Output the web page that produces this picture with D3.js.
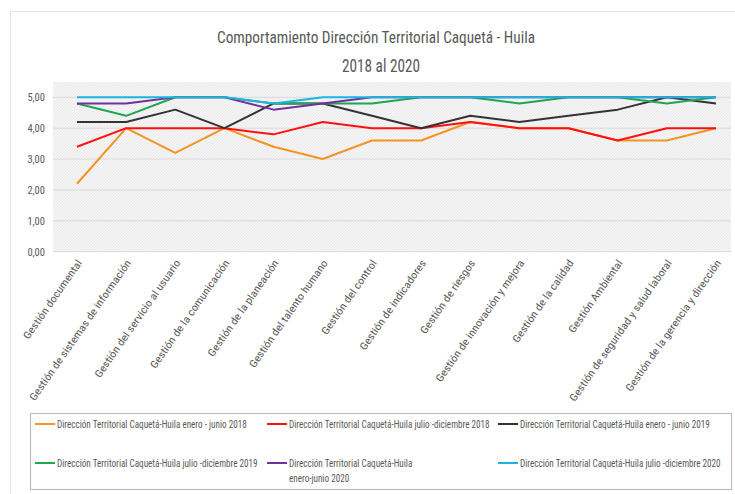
<!DOCTYPE html>
<html><head><meta charset="utf-8">
<script src="https://cdn.jsdelivr.net/npm/d3@7"></script>
<style>
body{margin:0;background:#fff;}
text{font-family:'Liberation Sans Narrow','Arial Narrow','Roboto Condensed','Liberation Sans',sans-serif;}
</style></head>
<body><svg id="c" width="735" height="494"></svg>
<script>
const categories = ["Gestión documental","Gestión de sistemas de información","Gestión del servicio al usuario","Gestión de la comunicación","Gestión de la planeación","Gestión del talento humano","Gestión del control","Gestión de indicadores","Gestión de riesgos","Gestión de innovación y mejora","Gestión de la calidad","Gestión Ambiental","Gestión de seguridad y salud laboral","Gestión de la gerencia y dirección"];
const s2018a = [2.2,4.0,3.2,4.0,3.4,3.0,3.6,3.6,4.2,4.0,4.0,3.6,3.6,4.0];
const s2018b = [3.4,4.0,4.0,4.0,3.8,4.2,4.0,4.0,4.2,4.0,4.0,3.6,4.0,4.0];
const s2019a = [4.2,4.2,4.6,4.0,4.8,4.8,4.4,4.0,4.4,4.2,4.4,4.6,5.0,4.8];
const s2019b = [4.8,4.4,5.0,5.0,4.8,4.8,4.8,5.0,5.0,4.8,5.0,5.0,4.8,5.0];
const s2020a = [4.8,4.8,5.0,5.0,4.6,4.8,5.0,5.0,5.0,5.0,5.0,5.0,5.0,5.0];
const s2020b = [5.0,5.0,5.0,5.0,4.8,5.0,5.0,5.0,5.0,5.0,5.0,5.0,5.0,5.0];
const seriesNames = ["Dirección Territorial Caquetá-Huila enero - junio 2018","Dirección Territorial Caquetá-Huila julio -diciembre 2018","Dirección Territorial Caquetá-Huila enero - junio 2019","Dirección Territorial Caquetá-Huila julio -diciembre 2019","Dirección Territorial Caquetá-Huila\nenero-junio 2020","Dirección Territorial Caquetá-Huila julio -diciembre 2020"];
const seriesValues = [s2018a,s2018b,s2019a,s2019b,s2020a,s2020b];
const colors = ["#F39425","#FF1010","#333333","#1FA650","#7030A0","#1CB4E0"];
const yTicks = [0,1,2,3,4,5];
const titleLines = ["Comportamiento Dirección Territorial Caquetá - Huila","2018 al 2020"];

function fit(sel, target){
  const n0 = sel.node(); const L0 = n0.getComputedTextLength();
  const f = target / L0;
  sel.each(function(){
    const L = this.getComputedTextLength();
    if (L>0) d3.select(this).attr("textLength", L*f).attr("lengthAdjust","spacingAndGlyphs");
  });
}

const svg = d3.select("#c");
svg.append("path").attr("d","M735,11.5 H10.5 V494").attr("fill","none").attr("stroke","#e4e4e4");

const defs = svg.append("defs");
const pat = defs.append("pattern").attr("id","hatch").attr("patternUnits","userSpaceOnUse").attr("width",3).attr("height",3);
pat.append("rect").attr("width",3).attr("height",3).attr("fill","#f5f5f5");
pat.append("path").attr("d","M-1,1 l2,-2 M0,3 l3,-3 M2,4 l2,-2").attr("stroke","#e2e2e2").attr("stroke-width",0.7);

const plotL = 53, plotR = 731, plotT = 82, plotB = 252;
svg.append("rect").attr("x",plotL).attr("y",plotT).attr("width",plotR-plotL).attr("height",plotB-plotT).attr("fill","url(#hatch)");

const x = d3.scalePoint().domain(categories).range([77,716]);
const y = d3.scaleLinear().domain([0,5]).range([251.7,97.3]);

svg.append("g").selectAll("line").data(yTicks).join("line")
  .attr("x1",plotL).attr("x2",plotR).attr("y1",d=>y(d)).attr("y2",d=>y(d))
  .attr("stroke","#d9d9d9").attr("stroke-width",1);

const yAxis = svg.append("g").attr("transform",`translate(${plotL},0)`)
  .call(d3.axisLeft(y).tickValues(yTicks).tickSize(0).tickPadding(8).tickFormat(d=>d.toFixed(2).replace(".",",")));
yAxis.select(".domain").remove();
yAxis.selectAll("text").attr("fill","#595959").style("font-size","10.5px");

const xAxis = svg.append("g").attr("transform",`translate(0,${plotB})`)
  .call(d3.axisBottom(x).tickSize(0).tickPadding(0));
xAxis.select(".domain").remove();
const xl = xAxis.selectAll("text").attr("fill","#595959").style("font-size","10.5px")
  .attr("text-anchor","end").attr("dy",0).attr("y",0)
  .attr("transform",`translate(5,11) rotate(-55)`);
fit(xl, 94);

const line = d3.line().x((d,i)=>x(categories[i])).y(d=>y(d));
svg.append("g").selectAll("path").data(seriesValues).join("path")
  .attr("d",d=>line(d)).attr("fill","none")
  .attr("stroke",(d,i)=>colors[i]).attr("stroke-width",2).attr("stroke-linejoin","round");

const t1 = svg.append("text").attr("x",376).attr("y",43).attr("text-anchor","middle").attr("fill","#595959").style("font-size","16px").text(titleLines[0]);
const t2 = svg.append("text").attr("x",381).attr("y",72).attr("text-anchor","middle").attr("fill","#595959").style("font-size","18px").text(titleLines[1]);
fit(t1, 318); fit(t2, 78);

svg.append("rect").attr("x",30.5).attr("y",413.5).attr("width",701).attr("height",76).attr("fill","none").attr("stroke","#c3b2d6").attr("stroke-width",1);
const legPos = [[35,424],[267,424],[498,424],[35,463],[267,463],[498,463]];
const lg = svg.append("g").selectAll("g").data(seriesNames).join("g")
  .attr("transform",(d,i)=>`translate(${legPos[i][0]},${legPos[i][1]})`);
lg.append("line").attr("x1",0).attr("x2",20).attr("y1",0).attr("y2",0).attr("stroke",(d,i)=>colors[i]).attr("stroke-width",2);
const lt = lg.append("text").attr("fill","#595959").style("font-size","10px");
lt.each(function(d){
  const t = d3.select(this);
  d.split("\n").forEach((s,k)=>t.append("tspan").attr("x",0).attr("dy",k?16:0).text(s));
});
const L0 = lt.node().getComputedTextLength();
const sf = 190 / L0;
lt.attr("transform",`translate(22,3.5) scale(${sf},1)`);
</script></body></html>
